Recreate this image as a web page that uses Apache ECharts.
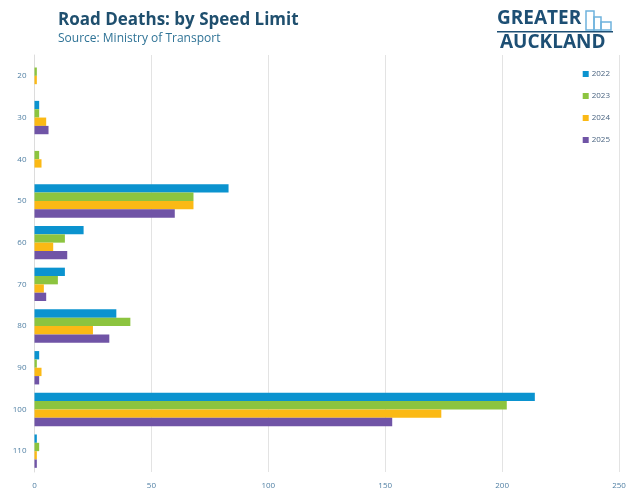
<!DOCTYPE html>
<html>
<head>
<meta charset="utf-8">
<script src="https://cdn.jsdelivr.net/npm/echarts@6/dist/echarts.min.js"></script>
<style>
  html, body { margin: 0; padding: 0; background: #ffffff; }
  #chart { width: 629px; height: 490px; }
</style>
</head>
<body>
<div id="chart"></div>
<script>
// Speed limit zones (km/h), top to bottom
const speedLimits = ['20', '30', '40', '50', '60', '70', '80', '90', '100', '110'];

// Road deaths per speed limit zone, by year
const deaths2022 = [0, 2, 0, 83, 21, 13, 35, 2, 214, 1];
const deaths2023 = [1, 2, 2, 68, 13, 10, 41, 1, 202, 2];
const deaths2024 = [1, 5, 3, 68, 8, 4, 25, 3, 174, 1];
const deaths2025 = [0, 6, 0, 60, 14, 5, 32, 2, 153, 1];

const years = ['2022', '2023', '2024', '2025'];
const xTicks = [0, 50, 100, 150, 200, 250];

const palette = ['#0b93cf', '#8cc43f', '#fbb915', '#7054a6'];
const labelColor = '#4f7fa3';
const font = 'Open Sans';

const chart = echarts.init(document.getElementById('chart'));

const seriesData = [deaths2022, deaths2023, deaths2024, deaths2025];

chart.setOption({
  backgroundColor: '#ffffff',
  animation: false,
  color: palette,
  title: {
    text: 'Road Deaths: by Speed Limit',
    subtext: 'Source: Ministry of Transport',
    left: 53,
    top: 7,
    itemGap: 4,
    textStyle: { fontFamily: font, fontSize: 17, fontWeight: 'bold', color: '#1f4f6e' },
    subtextStyle: { fontFamily: font, fontSize: 12, color: '#2f7396' }
  },
  legend: {
    orient: 'vertical',
    right: 14,
    top: 65,
    itemWidth: 6,
    itemHeight: 6,
    itemGap: 14,
    icon: 'rect',
    data: years,
    textStyle: { fontFamily: font, fontSize: 8, color: '#4a6480', padding: [0, 0, 0, -2] }
  },
  grid: { left: 34.5, right: 10, top: 55, bottom: 17, containLabel: false },
  xAxis: {
    type: 'value',
    min: xTicks[0],
    max: xTicks[xTicks.length - 1],
    interval: 50,
    axisLine: { show: false },
    axisTick: { show: false },
    splitLine: { show: true, lineStyle: { color: '#e3e3e3', width: 1 } },
    axisLabel: { fontFamily: font, fontSize: 8, color: labelColor, margin: 10 }
  },
  yAxis: {
    type: 'category',
    data: speedLimits,
    inverse: true,
    axisLine: { show: true, lineStyle: { color: '#dcdcdc' } },
    axisTick: { show: false },
    axisLabel: { fontFamily: font, fontSize: 8, color: labelColor, margin: 8 }
  },
  series: years.map((y, i) => ({
    name: y,
    type: 'bar',
    data: seriesData[i],
    barGap: '0%',
    barCategoryGap: '20%',
    itemStyle: { color: palette[i] }
  })),
  graphic: [
    {
      type: 'text', left: 497, top: 9,
      style: { text: 'GREATER', fontFamily: font, fontSize: 19, fontWeight: 'bold', fill: '#1d4f74' }
    },
    {
      type: 'text', left: 500, top: 33,
      style: { text: 'AUCKLAND', fontFamily: font, fontSize: 19, fontWeight: 'bold', fill: '#1d4f74' }
    },
    {
      type: 'rect', shape: { x: 497, y: 31, width: 116, height: 1.5 },
      style: { fill: '#1d4f74' }
    },
    // small city skyline mark beside the wordmark
    {
      type: 'group',
      children: [
        { type: 'rect', shape: { x: 586, y: 11, width: 8, height: 19 }, style: { fill: 'none', stroke: '#6fb3dd', lineWidth: 1.5 } },
        { type: 'rect', shape: { x: 594, y: 17, width: 7, height: 13 }, style: { fill: 'none', stroke: '#6fb3dd', lineWidth: 1.5 } },
        { type: 'rect', shape: { x: 601, y: 22, width: 10, height: 8 }, style: { fill: 'none', stroke: '#6fb3dd', lineWidth: 1.5 } }
      ]
    }
  ]
});
</script>
</body>
</html>
